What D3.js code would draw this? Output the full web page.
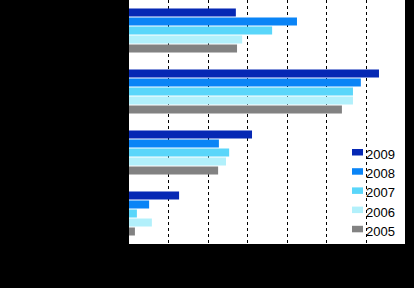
<!DOCTYPE html>
<html>
<head>
<meta charset="utf-8">
<script src="https://cdn.jsdelivr.net/npm/d3@7/dist/d3.min.js"></script>
<style>
  html, body { margin: 0; padding: 0; background: #000; }
  svg { display: block; }
</style>
</head>
<body>
<script>
const categories = ["Category 1", "Category 2", "Category 3", "Category 4"];
const seriesNames = ["2009", "2008", "2007", "2006", "2005"];
const values2009 = [2.71, 6.34, 3.12, 1.27];
const values2008 = [4.26, 5.88, 2.28, 0.51];
const values2007 = [3.63, 5.68, 2.54, 0.20];
const values2006 = [2.87, 5.68, 2.46, 0.58];
const values2005 = [2.74, 5.40, 2.26, 0.15];
const tickValues = [0, 1, 2, 3, 4, 5, 6, 7];
const colors = ["#0628b4", "#0a84f6", "#5ad6fa", "#b2f0fb", "#828282"];

const seriesValues = [values2009, values2008, values2007, values2006, values2005];

const W = 414, H = 288;
const margin = { left: 129, top: 0, right: 9, bottom: 44 };
const pw = W - margin.left - margin.right;
const ph = H - margin.top - margin.bottom;

const svg = d3.select("body").append("svg").attr("width", W).attr("height", H);
svg.append("rect").attr("width", W).attr("height", H).attr("fill", "#000");

const g = svg.append("g").attr("transform", `translate(${margin.left},${margin.top})`);
g.append("rect").attr("width", pw).attr("height", ph).attr("fill", "#fff");

const x = d3.scaleLinear().domain([0, 7]).range([0, pw]);
const y0 = d3.scaleBand().domain(categories).range([0, ph]).paddingInner(0.262).paddingOuter(0.131);
const y1 = d3.scaleBand().domain(seriesNames).range([0, y0.bandwidth()]).paddingInner(1/9).paddingOuter(1/18);

// gridlines
g.append("g").selectAll("line").data(tickValues.filter(t => t > 0 && t < 7)).join("line")
  .attr("x1", d => Math.round(x(d)) + 0.5).attr("x2", d => Math.round(x(d)) + 0.5)
  .attr("y1", 0).attr("y2", ph)
  .attr("stroke", "#000").attr("stroke-width", 1).attr("stroke-dasharray", "3,3");

// bars
categories.forEach((c, ci) => {
  const grp = g.append("g").attr("transform", `translate(0,${y0(c)})`);
  seriesNames.forEach((s, si) => {
    grp.append("rect")
      .attr("x", 0)
      .attr("y", y1(s))
      .attr("width", x(seriesValues[si][ci]))
      .attr("height", y1.bandwidth())
      .attr("fill", colors[si]);
  });
});

// legend
const legend = svg.append("g").attr("transform", "translate(352,149)");
seriesNames.forEach((s, i) => {
  const row = legend.append("g").attr("transform", `translate(0,${i * 19.2})`);
  row.append("rect").attr("width", 11).attr("height", 6.5).attr("fill", colors[i]);
  row.append("text").attr("x", 14).attr("y", 10)
    .attr("font-family", "Liberation Sans, Arial, sans-serif").attr("font-size", 13)
    .attr("fill", "#000").text(s);
});
</script>
</body>
</html>
